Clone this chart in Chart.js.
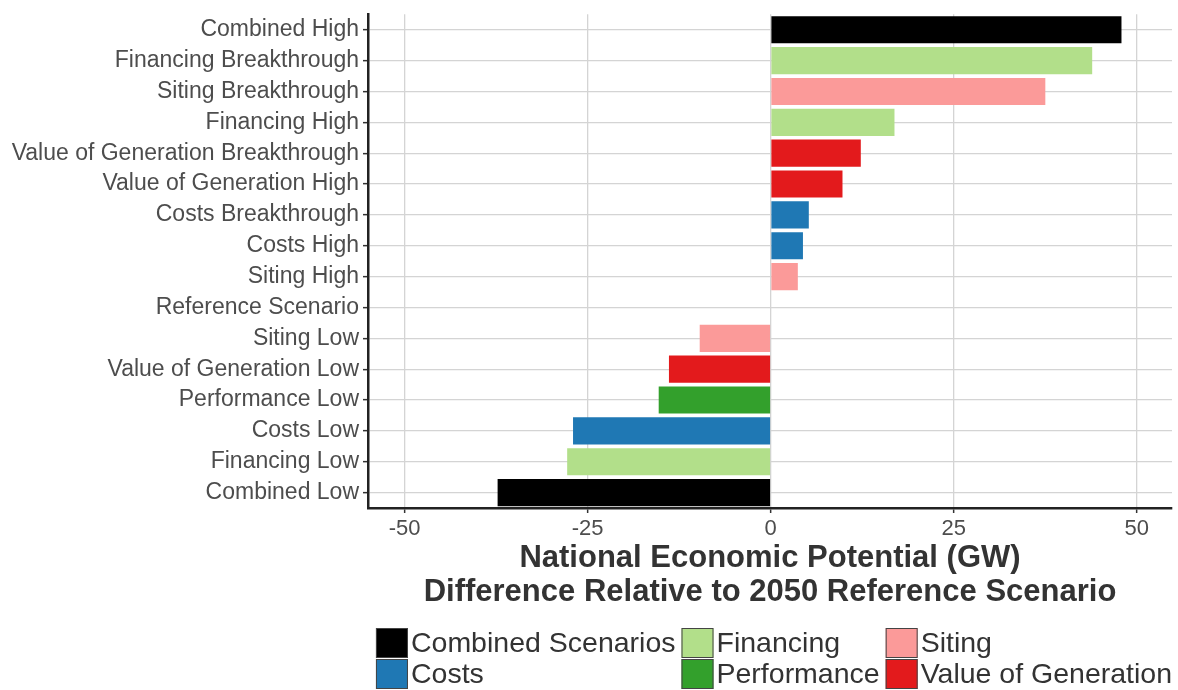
<!DOCTYPE html>
<html>
<head>
<meta charset="utf-8">
<script src="https://cdn.jsdelivr.net/npm/chart.js@4.4.1/dist/chart.umd.min.js"></script>
<style>
  body { margin: 0; background: #fff; }
  #wrap { width: 1178px; height: 690px; position: relative; }
</style>
</head>
<body>
<div id="wrap"><canvas id="scenarios"></canvas></div>
<script>
//SCENARIO NAMES (TOP TO BOTTOM)
const categories = [
  'Combined High', 'Financing Breakthrough', 'Siting Breakthrough', 'Financing High',
  'Value of Generation Breakthrough', 'Value of Generation High', 'Costs Breakthrough',
  'Costs High', 'Siting High', 'Reference Scenario', 'Siting Low',
  'Value of Generation Low', 'Performance Low', 'Costs Low', 'Financing Low', 'Combined Low'
];
//DIFFERENCE TO 2050 REFERENCE (GW)
const values = [47.9, 43.9, 37.5, 16.9, 12.3, 9.8, 5.2, 4.4, 3.7, 0, -9.7, -13.9, -15.3, -27.0, -27.8, -37.3];
//GROUP OF EACH SCENARIO
const groups = [
  'Combined Scenarios', 'Financing', 'Siting', 'Financing',
  'Value of Generation', 'Value of Generation', 'Costs',
  'Costs', 'Siting', 'Combined Scenarios', 'Siting',
  'Value of Generation', 'Performance', 'Costs', 'Financing', 'Combined Scenarios'
];
//LEGEND ENTRIES (COLUMN BY COLUMN)
const legendGroups = ['Combined Scenarios', 'Costs', 'Financing', 'Performance', 'Siting', 'Value of Generation'];
const xTicks = [-50, -25, 0, 25, 50];

const groupColors = {
  'Combined Scenarios': '#000000',
  'Costs': '#1f78b4',
  'Financing': '#b2df8a',
  'Performance': '#33a02c',
  'Siting': '#fb9a99',
  'Value of Generation': '#e31a1c'
};

//LEGEND BELOW THE AXIS TITLE, 2 ROWS x 3 COLUMNS
const bottomLegend = {
  id: 'bottomLegend',
  afterDraw(chart) {
    const ctx = chart.ctx;
    const area = chart.chartArea;
    const boxW = 32, boxH = 30, gap = 3, colGap = 6;
    const rowTop = [628, 659];
    ctx.save();
    ctx.font = '28.5px "Liberation Sans", Arial, sans-serif';
    let cols = [];
    for (let c = 0; c < 3; c++) {
      const items = legendGroups.slice(c * 2, c * 2 + 2);
      const w = Math.max(...items.map(t => ctx.measureText(t).width));
      cols.push({ items, w });
    }
    const total = cols.reduce((s, c) => s + boxW + gap + c.w, 0) + colGap * 2;
    let x = (area.left + area.right) / 2 + 4 - total / 2;
    cols.forEach(col => {
      col.items.forEach((name, r) => {
        ctx.fillStyle = groupColors[name];
        ctx.fillRect(x, rowTop[r], boxW, boxH);
        ctx.strokeStyle = '#444';
        ctx.lineWidth = 1;
        ctx.strokeRect(x + 0.5, rowTop[r] + 0.5, boxW - 1, boxH - 1);
        ctx.fillStyle = '#333';
        ctx.textBaseline = 'middle';
        ctx.textAlign = 'left';
        ctx.fillText(name, x + boxW + gap, rowTop[r] + boxH / 2 + 1);
      });
      x += boxW + gap + col.w + colGap;
    });
    ctx.restore();
  }
};

function drawChart() {
  const cvs = document.getElementById('scenarios');
  new Chart(cvs, {
    type: 'bar',
    data: {
      labels: categories,
      datasets: [{
        data: values,
        backgroundColor: groups.map(g => groupColors[g]),
        borderWidth: 0,
        barPercentage: 0.88,
        categoryPercentage: 1
      }]
    },
    options: {
      indexAxis: 'y',
      responsive: true,
      maintainAspectRatio: false,
      animation: false,
      layout: { padding: { top: 9, right: 6, bottom: 70, left: 0 } },
      plugins: { legend: { display: false }, tooltip: { enabled: false } },
      scales: {
        x: {
          min: -55,
          max: 54.8,
          afterBuildTicks: scale => { scale.ticks = xTicks.map(v => ({ value: v })); },
          afterFit: scale => { scale.height = 112; },
          grid: { color: '#d4d4d4', lineWidth: 1.3, tickLength: 5, tickColor: '#333', tickWidth: 1.5 },
          border: { display: true, color: '#222', width: 2.5 },
          ticks: {
            font: { family: '"Liberation Sans", Arial, sans-serif', size: 22 },
            color: '#4d4d4d',
            padding: 3
          },
          title: {
            display: true,
            text: ['National Economic Potential (GW)', 'Difference Relative to 2050 Reference Scenario'],
            font: { family: '"Liberation Sans", Arial, sans-serif', size: 31, weight: 'bold', lineHeight: 1.1 },
            color: '#333',
            padding: { top: 0, bottom: 10 }
          }
        },
        y: {
          afterFit: scale => { scale.width = 368; },
          grid: { offset: false, color: '#d4d4d4', lineWidth: 1.3, tickLength: 5, tickColor: '#333', tickWidth: 1.5 },
          border: { display: true, color: '#222', width: 2.5 },
          ticks: {
            font: { family: '"Liberation Sans", Arial, sans-serif', size: 23, lineHeight: 0.9 },
            color: '#4d4d4d',
            padding: 4,
            autoSkip: false
          }
        }
      }
    },
    plugins: [bottomLegend]
  });
}

document.addEventListener('DOMContentLoaded', drawChart);
</script>
</body>
</html>
